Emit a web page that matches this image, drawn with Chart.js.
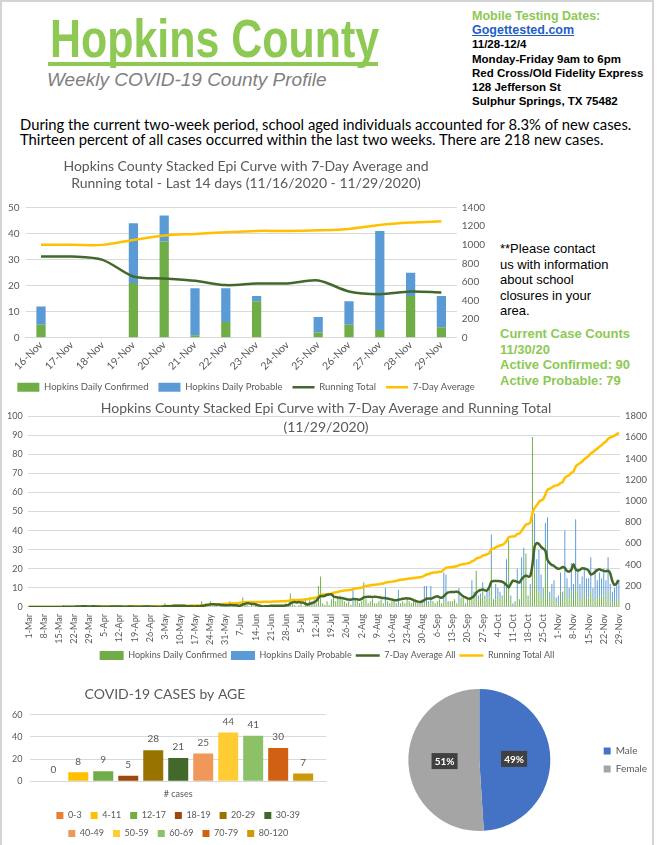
<!DOCTYPE html>
<html>
<head>
<meta charset="utf-8">
<title>Hopkins County Weekly COVID-19 County Profile</title>
<script src="https://cdn.jsdelivr.net/npm/chart.js@4.4.1/dist/chart.umd.min.js"></script>
<style>
  body { margin: 0; background: #fff; }
  #page { position: relative; width: 657px; height: 845px; overflow: hidden; font-family: 'Liberation Sans', Arial, sans-serif; }
  #frame { position: absolute; left: 0; top: 0; width: 650px; height: 845px; border-left: 2px solid #d4d4d4; border-top: 2px solid #d4d4d4; border-right: 2px solid #d4d4d4; }
  .abs { position: absolute; }
  #county { left: 50px; top: 8px; font: bold 54px 'Liberation Sans', Arial, sans-serif; color: #8DC953; line-height: 60px; transform: scaleX(0.795); transform-origin: 0 0; white-space: nowrap; }
  #rule { left: 48px; top: 62px; width: 330px; height: 4px; background: #8DC953; }
  #subtitle { left: 47px; top: 69px; font: italic 19px 'Liberation Sans', Arial, sans-serif; color: #7f7f7f; }
  #testing { left: 472px; top: 9px; font: bold 11.5px 'Liberation Sans', Arial, sans-serif; line-height: 14.2px; color: #000; }
  #testing .green { color: #8DC953; font-size: 12.5px; }
  #testing a { color: #1F5FC4; text-decoration: underline; font-size: 12.5px; }
  #summary { left: 20px; top: 117px; font: 14.8px Lato, 'Liberation Sans', sans-serif; line-height: 15px; color: #000; }
  #contact { left: 500px; top: 241px; font: 13px 'Liberation Sans', Arial, sans-serif; line-height: 15.5px; color: #000; }
  #counts { left: 500px; top: 326px; font: bold 13px 'Liberation Sans', Arial, sans-serif; line-height: 15.6px; color: #8DC953; }
  #epiTitle { left: 0; top: 398px; width: 652px; text-align: center; font: 14px Lato, sans-serif; line-height: 19px; color: #595959; }
  .chartBox { position: absolute; }
</style>
</head>
<body>
<div id="page">
  <div id="frame"></div>
  <div id="county" class="abs">Hopkins County</div>
  <div id="rule" class="abs"></div>
  <div id="subtitle" class="abs">Weekly COVID-19 County Profile</div>
  <div id="testing" class="abs">
    <span class="green">Mobile Testing Dates:</span><br>
    <a>Gogettested.com</a><br>
    11/28-12/4<br>
    Monday-Friday 9am to 6pm<br>
    Red Cross/Old Fidelity Express<br>
    128 Jefferson St<br>
    Sulphur Springs, TX 75482
  </div>
  <div id="summary" class="abs">During the current two-week period, school aged individuals accounted for 8.3% of new cases.<br>Thirteen percent of all cases occurred within the last two weeks. There are 218 new cases.</div>
  <div id="contact" class="abs">**Please contact<br>us with information<br>about school<br>closures in your<br>area.</div>
  <div id="counts" class="abs">Current Case Counts<br>11/30/20<br>Active Confirmed: 90<br>Active Probable: 79</div>

  <div class="chartBox" style="left:0;top:155px;width:490px;height:247px;"><canvas id="recent-chart"></canvas></div>
  <div class="chartBox" style="left:0;top:395px;width:652px;height:275px;"><canvas id="epi-chart"></canvas></div>
  <div id="epiTitle" class="abs">Hopkins County Stacked Epi Curve with 7-Day Average and Running Total<br>(11/29/2020)</div>
  <div class="chartBox" style="left:0;top:680px;width:330px;height:168px;"><canvas id="age-chart"></canvas></div>
  <div class="chartBox" style="left:363px;top:681px;width:294px;height:167px;"><canvas id="sex-chart"></canvas></div>
</div>

<script>
'use strict';
// ***** LAST 14 DAYS *****
let recentDays = ['16-Nov', '17-Nov', '18-Nov', '19-Nov', '20-Nov', '21-Nov', '22-Nov',
  '23-Nov', '24-Nov', '25-Nov', '26-Nov', '27-Nov', '28-Nov', '29-Nov'];
let recentConfirmed = [5, 0, 0, 21, 37, 1, 6, 14, 0, 2, 5, 3, 16, 4];
let recentProbable = [7, 0, 0, 23, 10, 18, 13, 2, 0, 6, 9, 38, 9, 12];
let recentRunningTotal = [873, 873, 838, 659, 637, 612, 566, 584, 584, 616, 498, 469, 498, 487];
let recentSevenDayAvg = [999, 999, 999, 1052, 1099, 1117, 1135, 1149, 1149, 1156, 1171, 1214, 1239, 1253];

// ***** WHOLE EPIDEMIC (1-Mar to 29-Nov, one row per week) *****
let epiMonths = ['Mar', 'Apr', 'May', 'Jun', 'Jul', 'Aug', 'Sep', 'Oct', 'Nov'];
let epiMonthDays = [31, 30, 31, 30, 31, 31, 30, 31, 29];

let dailyConfirmed = [
  0, 0, 0, 0, 0, 0, 0,
  0, 0, 0, 0, 0, 0, 0,
  0, 0, 1, 0, 0, 0, 0,
  0, 1, 0, 0, 1, 0, 0,
  0, 0, 0, 0, 1, 0, 0,
  0, 0, 0, 1, 0, 0, 0,
  0, 0, 0, 0, 1, 0, 0,
  0, 0, 0, 0, 1, 0, 0,
  0, 0, 0, 0, 0, 0, 1,
  2, 0, 0, 0, 1, 0, 0,
  0, 0, 1, 0, 0, 1, 0,
  0, 1, 0, 3, 0, 2, 1,
  3, 0, 1, 2, 0, 1, 1,
  2, 0, 3, 1, 2, 0, 1,
  2, 5, 1, 1, 0, 1, 0,
  1, 0, 0, 0, 1, 0, 0,
  1, 1, 0, 1, 1, 1, 0,
  2, 0, 7, 2, 1, 0, 1,
  2, 0, 4, 1, 5, 3, 4,
  2, 11, 16, 2, 1, 3, 1,
  4, 8, 3, 5, 6, 4, 3,
  2, 3, 1, 1, 4, 3, 2,
  3, 13, 4, 2, 3, 4, 2,
  2, 3, 4, 2, 1, 3, 2,
  3, 4, 2, 1, 2, 3, 2,
  4, 3, 2, 3, 3, 2, 2,
  4, 2, 2, 3, 2, 3, 2,
  3, 4, 2, 3, 3, 3, 3,
  3, 4, 2, 2, 5, 6, 2,
  4, 5, 4, 6, 19, 4, 5,
  8, 4, 5, 5, 20, 3, 4,
  6, 5, 4, 7, 10, 35, 4,
  1, 2, 6, 3, 10, 12, 28,
  4, 8, 89, 20, 10, 8, 7,
  4, 33, 12, 3, 5, 6, 2,
  2, 8, 3, 10, 6, 4, 8,
  4, 10, 8, 3, 5, 7, 5,
  5, 8, 3, 6, 4, 5, 6,
  6, 4, 8, 3, 2, 3, 4,
  3
];

let dailyProbable = [
  0, 0, 0, 0, 0, 0, 0,
  0, 0, 0, 0, 0, 0, 0,
  0, 0, 0, 0, 0, 0, 0,
  0, 0, 0, 0, 0, 0, 0,
  0, 0, 0, 0, 0, 0, 0,
  0, 0, 0, 0, 0, 0, 0,
  0, 0, 0, 0, 0, 0, 0,
  0, 0, 0, 0, 0, 0, 0,
  0, 0, 0, 0, 0, 0, 0,
  0, 0, 0, 0, 0, 0, 0,
  0, 0, 0, 0, 0, 0, 0,
  0, 0, 0, 0, 0, 0, 0,
  0, 0, 0, 0, 0, 0, 0,
  0, 0, 0, 0, 0, 0, 0,
  0, 0, 0, 0, 0, 0, 0,
  0, 0, 0, 0, 0, 0, 0,
  0, 0, 0, 0, 0, 0, 0,
  0, 0, 0, 0, 0, 0, 0,
  0, 0, 0, 0, 0, 0, 0,
  0, 0, 0, 0, 0, 0, 0,
  0, 0, 0, 0, 0, 0, 0,
  0, 0, 0, 8, 0, 0, 0,
  0, 0, 0, 0, 0, 0, 0,
  0, 0, 0, 0, 9, 0, 0,
  0, 0, 0, 8, 0, 0, 0,
  0, 0, 0, 0, 0, 0, 0,
  0, 9, 9, 0, 9, 0, 0,
  0, 0, 0, 15, 14, 0, 0,
  0, 0, 0, 8, 0, 0, 0,
  0, 0, 10, 2, 0, 2, 2,
  5, 2, 3, 5, 18, 1, 8,
  4, 3, 2, 5, 15, 0, 2,
  1, 1, 14, 1, 16, 19, 0,
  2, 4, 0, 29, 15, 22, 10,
  6, 11, 35, 5, 7, 8, 3,
  4, 10, 5, 30, 9, 6, 15,
  8, 36, 12, 9, 11, 14, 10,
  10, 18, 7, 14, 10, 13, 9,
  14, 10, 18, 9, 6, 7, 10,
  10
];

let sevenDayAvg = [
  0, 0, 0, 0, 0, 0, 0,
  0, 0, 0, 0, 0, 0, 0,
  0, 0, 0.1, 0.1, 0.1, 0.1, 0.1,
  0.1, 0.3, 0.3, 0.3, 0.4, 0.4, 0.3,
  0.3, 0.3, 0.4, 0.3, 0.3, 0.3, 0.1,
  0.1, 0.1, 0.1, 0.3, 0.3, 0.3, 0.3,
  0.3, 0.3, 0.1, 0.1, 0.3, 0.3, 0.3,
  0.1, 0.1, 0.1, 0.1, 0.3, 0.3, 0.3,
  0.3, 0.1, 0.1, 0.1, 0, 0, 0.3,
  0.4, 0.4, 0.4, 0.4, 0.6, 0.6, 0.6,
  0.6, 0.6, 0.6, 0.4, 0.4, 0.4, 0.3,
  0.3, 0.4, 0.3, 0.6, 0.6, 1, 1.1,
  1.4, 1.4, 1.4, 1.3, 1.3, 1, 1,
  0.9, 0.9, 1, 1, 0.9, 0.9, 0.7,
  0.7, 1.3, 1.6, 2, 1.9, 1.6, 1.6,
  1.4, 0.9, 0.7, 0.3, 0.3, 0.4, 0.4,
  0.6, 0.6, 0.6, 0.7, 0.6, 0.7, 0.6,
  0.9, 0.9, 1.9, 2.4, 2.6, 2.4, 2.6,
  2.3, 2.3, 1.7, 1.3, 1.7, 2, 2.4,
  3.2, 4.7, 5.8, 5.6, 5.9, 6.4, 6.6,
  6.6, 5.5, 5.2, 5, 4.7, 4.7, 4.4,
  4.1, 3.9, 3.8, 4.2, 4.1, 4, 3.8,
  4.3, 5, 5.2, 5.3, 5.3, 5.2, 5.4,
  5.3, 5.1, 4.9, 4.7, 4.6, 4.4, 4.2,
  3.9, 3.6, 3.5, 3.8, 4, 4.3, 4.5,
  4.5, 4.4, 4.1, 3.6, 3.2, 2.8, 2.6,
  2.9, 3.6, 4.3, 4.5, 4.3, 4.8, 5.3,
  5.6, 5.1, 4.8, 5.6, 6.8, 7.6, 7.8,
  7.9, 7.9, 8, 7.6, 6.5, 5.6, 5,
  4.5, 4.3, 4.9, 5.8, 7.4, 8.4, 8.9,
  9.2, 8.7, 8.6, 10.3, 13.2, 13.6, 13.6,
  13.6, 13.5, 13.2, 12.6, 11.5, 10.2, 12.1,
  13.8, 13.6, 13.2, 12.8, 14.5, 15.8, 16.5,
  15.9, 16.2, 22, 31.5, 33.5, 33, 31.5,
  30.5, 29.6, 24.5, 23, 22, 21.5, 20.5,
  20, 20.2, 20.9, 20.4, 18.8, 18.6, 19.5,
  22.4, 19.8, 19.1, 19.4, 20.3, 20.1, 19.8,
  19, 17, 17.4, 18.4, 19.3, 19.8, 19.3,
  18.9, 18.7, 19, 17.5, 13.5, 11.5, 12.4,
  14.1
];

let runningTotal = [
  0, 0, 0, 0, 0, 0, 0,
  0, 0, 0, 0, 0, 0, 0,
  0, 0, 1, 1, 1, 1, 1,
  1, 2, 2, 2, 3, 3, 3,
  3, 3, 3, 3, 4, 4, 4,
  4, 4, 4, 5, 5, 5, 5,
  5, 5, 5, 5, 6, 6, 6,
  6, 6, 6, 6, 7, 7, 7,
  7, 7, 7, 7, 7, 7, 8,
  10, 10, 10, 10, 11, 11, 11,
  11, 11, 12, 12, 12, 13, 13,
  13, 14, 14, 17, 17, 19, 20,
  23, 23, 24, 26, 26, 27, 28,
  30, 30, 33, 34, 36, 36, 37,
  39, 44, 45, 46, 46, 47, 47,
  48, 48, 48, 48, 49, 49, 49,
  50, 51, 51, 52, 53, 54, 54,
  56, 56, 63, 65, 66, 66, 67,
  69, 69, 73, 74, 79, 82, 86,
  88, 99, 115, 117, 118, 121, 122,
  126, 134, 137, 142, 148, 152, 155,
  157, 160, 161, 170, 174, 177, 179,
  182, 195, 199, 201, 204, 208, 210,
  212, 215, 219, 221, 231, 234, 236,
  239, 243, 245, 254, 256, 259, 261,
  265, 268, 270, 273, 276, 278, 280,
  284, 295, 306, 309, 320, 323, 325,
  328, 332, 334, 352, 369, 372, 375,
  378, 382, 384, 394, 399, 405, 407,
  411, 416, 430, 438, 457, 463, 470,
  483, 489, 497, 507, 545, 549, 561,
  571, 579, 585, 597, 622, 657, 663,
  665, 668, 688, 692, 718, 749, 777,
  783, 795, 884, 933, 958, 988, 1005,
  1015, 1059, 1106, 1114, 1126, 1140, 1145,
  1151, 1169, 1177, 1217, 1232, 1242, 1265,
  1277, 1323, 1343, 1355, 1371, 1392, 1407,
  1422, 1448, 1458, 1478, 1492, 1510, 1525,
  1545, 1559, 1585, 1597, 1605, 1615, 1629,
  1642
];

// ***** AGE AND SEX *****
let ageGroups = ['0-3', '4-11', '12-17', '18-19', '20-29', '30-39', '40-49', '50-59', '60-69', '70-79', '80-120'];
let ageCases = [0, 8, 9, 5, 28, 21, 25, 44, 41, 30, 7];
let sexLabels = ['Male', 'Female'];
let sexShares = [49, 51];

// ***** STYLE *****
let ageColors = ['#ED7D31', '#FFC000', '#70AD47', '#9E480E', '#997300', '#43682B',
  '#F1975A', '#FFCD33', '#8CC168', '#D26012', '#CC9A06'];
let green = '#70AD47';
let blue = '#5B9BD5';
let darkGreen = '#43682B';
let gold = '#FFC000';
let gridGray = '#D9D9D9';
let textGray = '#595959';

Chart.defaults.font.family = 'Lato, "Liberation Sans", sans-serif';
Chart.defaults.color = textGray;
Chart.defaults.animation = false;

// Build day labels like 1-Mar, 2-Mar ... 29-Nov
let epiDays = [];
epiMonths.forEach((month, m) => {
  for (let d = 1; d <= epiMonthDays[m]; d++) {
    epiDays.push(`${d}-${month}`);
  }
});

// Legend order should follow dataset order, not draw order
let byIndex = (a, b) => a.datasetIndex - b.datasetIndex;
// Plain numbers on axes (1400, not 1,400)
let plainNumber = (value) => String(value);

// ***** CHART 1: LAST 14 DAYS *****
new Chart(document.getElementById('recent-chart'), {
  type: 'bar',
  data: {
    labels: recentDays,
    datasets: [
      { label: 'Hopkins Daily Confirmed', data: recentConfirmed, backgroundColor: green, stack: 's', order: 2, pointStyle: 'rect', barPercentage: 0.3, categoryPercentage: 1 },
      { label: 'Hopkins Daily Probable', data: recentProbable, backgroundColor: blue, stack: 's', order: 2, pointStyle: 'rect', barPercentage: 0.3, categoryPercentage: 1 },
      { type: 'line', label: 'Running Total', data: recentRunningTotal, yAxisID: 'y1', borderColor: darkGreen, backgroundColor: darkGreen, borderWidth: 2.5, pointRadius: 0, pointStyle: 'line', order: 1, tension: 0.3 },
      { type: 'line', label: '7-Day Average', data: recentSevenDayAvg, yAxisID: 'y1', borderColor: gold, backgroundColor: gold, borderWidth: 2.5, pointRadius: 0, pointStyle: 'line', order: 1, tension: 0.3 }
    ]
  },
  options: {
    responsive: true,
    maintainAspectRatio: false,
    layout: { padding: { left: 2, right: 0, top: 0, bottom: 0 } },
    plugins: {
      title: {
        display: true,
        text: ['Hopkins County Stacked Epi Curve with 7-Day Average and', 'Running total - Last 14 days (11/16/2020 - 11/29/2020)'],
        font: { size: 14, weight: 'normal' },
        color: textGray,
        padding: { top: 3, bottom: 16 }
      },
      legend: {
        position: 'bottom',
        labels: { usePointStyle: true, pointStyleWidth: 22, boxHeight: 9, font: { size: 9.5 }, padding: 10, sort: byIndex }
      },
      tooltip: { enabled: false }
    },
    scales: {
      x: {
        stacked: true,
        grid: { display: false, tickLength: 1 },
        border: { color: gridGray },
        ticks: { minRotation: 45, maxRotation: 45, font: { size: 10.5 }, padding: 0 }
      },
      y: {
        stacked: true,
        min: 0,
        max: 50,
        ticks: { count: 11, font: { size: 10 }, padding: 6, callback: plainNumber },
        grid: { color: gridGray, drawTicks: false },
        border: { display: false }
      },
      y1: {
        position: 'right',
        min: 0,
        max: 1400,
        ticks: { count: 8, font: { size: 10 }, padding: 5, callback: plainNumber },
        grid: { display: false, drawTicks: false },
        border: { display: false }
      }
    }
  }
});

// ***** CHART 2: WHOLE EPIDEMIC *****
new Chart(document.getElementById('epi-chart'), {
  type: 'bar',
  data: {
    labels: epiDays,
    datasets: [
      { label: 'Hopkins Daily Confirmed', data: dailyConfirmed, backgroundColor: green, stack: 's', order: 2, pointStyle: 'rect', barPercentage: 0.45, categoryPercentage: 1 },
      { label: 'Hopkins Daily Probable', data: dailyProbable, backgroundColor: blue, stack: 's', order: 2, pointStyle: 'rect', barPercentage: 0.45, categoryPercentage: 1 },
      { type: 'line', label: '7-Day Average All', data: sevenDayAvg, borderColor: darkGreen, backgroundColor: darkGreen, borderWidth: 2.5, pointRadius: 0, pointStyle: 'line', order: 1, tension: 0.2 },
      { type: 'line', label: 'Running Total All', data: runningTotal, yAxisID: 'y1', borderColor: gold, backgroundColor: gold, borderWidth: 2.5, pointRadius: 0, pointStyle: 'line', order: 1, tension: 0.2 }
    ]
  },
  options: {
    responsive: true,
    maintainAspectRatio: false,
    layout: { padding: { left: 2, right: 0, top: 21, bottom: 0 } },
    plugins: {
      legend: {
        position: 'bottom',
        labels: { usePointStyle: true, pointStyleWidth: 24, boxHeight: 9, font: { size: 9 }, padding: 4, sort: byIndex }
      },
      tooltip: { enabled: false }
    },
    scales: {
      x: {
        stacked: true,
        grid: { display: false, tickLength: 5 },
        border: { color: gridGray },
        ticks: {
          autoSkip: false,
          minRotation: 90,
          maxRotation: 90,
          font: { size: 9 },
          padding: 2,
          callback: function (value, index) {
            return index % 7 === 0 ? this.getLabelForValue(value) : '';
          }
        }
      },
      y: {
        stacked: true,
        min: 0,
        max: 100,
        ticks: { count: 11, font: { size: 9 }, padding: 5, callback: plainNumber },
        grid: { color: gridGray, drawTicks: false },
        border: { display: false }
      },
      y1: {
        position: 'right',
        min: 0,
        max: 1800,
        ticks: { count: 10, font: { size: 9.5 }, padding: 5, callback: plainNumber },
        grid: { display: false, drawTicks: false },
        border: { display: false }
      }
    }
  }
});

// ***** CHART 3: CASES BY AGE *****
let valueLabels = {
  id: 'valueLabels',
  afterDatasetsDraw(chart) {
    let ctx = chart.ctx;
    ctx.save();
    ctx.font = '10px Lato, sans-serif';
    ctx.fillStyle = textGray;
    ctx.textAlign = 'center';
    ctx.textBaseline = 'bottom';
    chart.data.datasets.forEach((dataset, i) => {
      let bar = chart.getDatasetMeta(i).data[0];
      ctx.fillText(String(dataset.data[0]), bar.x, bar.y - 6);
    });
    ctx.restore();
  }
};

// Excel wraps this legend in a narrow box: 6 items on the first row, 5 on the second
let legendWidth = 266;
let narrowLegend = {
  id: 'narrowLegend',
  beforeLayout(chart) {
    let legend = chart.legend;
    if (legend && !legend.narrowed) {
      let update = legend.update.bind(legend);
      legend.update = (maxWidth, maxHeight, margins) => update(Math.min(maxWidth, legendWidth), maxHeight, margins);
      legend.narrowed = true;
    }
  },
  afterLayout(chart) {
    let legend = chart.legend;
    let mid = (chart.chartArea.left + chart.chartArea.right) / 2;
    legend.left = mid - legendWidth / 2;
    legend.right = mid + legendWidth / 2;
  }
};

new Chart(document.getElementById('age-chart'), {
  type: 'bar',
  data: {
    labels: ['# cases'],
    datasets: ageGroups.map((group, i) => ({
      label: group,
      data: [ageCases[i]],
      backgroundColor: ageColors[i],
      barPercentage: 0.8,
      categoryPercentage: 0.93
    }))
  },
  options: {
    responsive: true,
    maintainAspectRatio: false,
    layout: { padding: { left: 4, right: 4, top: 0, bottom: 0 } },
    plugins: {
      title: {
        display: true,
        text: 'COVID-19 CASES by AGE',
        font: { size: 14, weight: 'normal' },
        color: textGray,
        padding: { top: 6, bottom: 12 }
      },
      legend: {
        position: 'bottom',
        labels: { boxWidth: 7, boxHeight: 7, font: { size: 9 }, padding: 9 }
      },
      tooltip: { enabled: false }
    },
    scales: {
      x: {
        grid: { display: false, tickLength: 4 },
        border: { color: gridGray },
        ticks: { font: { size: 9 } }
      },
      y: {
        min: 0,
        max: 60,
        ticks: { count: 4, font: { size: 9 }, padding: 8 },
        grid: { color: gridGray, drawTicks: false },
        border: { display: false }
      }
    }
  },
  plugins: [valueLabels, narrowLegend]
});

// ***** CHART 4: CASES BY SEX *****
let pieLabels = {
  id: 'pieLabels',
  afterDatasetsDraw(chart) {
    let ctx = chart.ctx;
    ctx.save();
    ctx.font = 'bold 10px Lato, sans-serif';
    ctx.textAlign = 'center';
    ctx.textBaseline = 'middle';
    chart.getDatasetMeta(0).data.forEach((arc, i) => {
      let mid = (arc.startAngle + arc.endAngle) / 2;
      let r = arc.outerRadius * 0.49;
      let x = arc.x + Math.cos(mid) * r;
      let y = arc.y + Math.sin(mid) * r;
      ctx.fillStyle = '#404040';
      ctx.fillRect(x - 13, y - 8, 26, 16);
      ctx.fillStyle = '#fff';
      ctx.fillText(`${sexShares[i]}%`, x, y + 0.5);
    });
    ctx.restore();
  }
};

new Chart(document.getElementById('sex-chart'), {
  type: 'pie',
  data: {
    labels: sexLabels,
    datasets: [{ data: sexShares, backgroundColor: ['#4472C4', '#A5A5A5'], borderWidth: 0 }]
  },
  options: {
    responsive: true,
    maintainAspectRatio: false,
    layout: { padding: { top: 8, bottom: 17, left: 0, right: 0 } },
    plugins: {
      legend: {
        position: 'right',
        labels: { boxWidth: 7, boxHeight: 7, font: { size: 10 }, padding: 8 }
      },
      tooltip: { enabled: false }
    }
  },
  plugins: [pieLabels]
});
</script>
</body>
</html>
